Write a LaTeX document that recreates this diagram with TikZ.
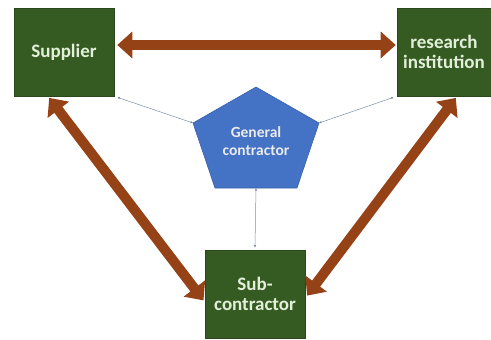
\documentclass[tikz,border=0pt]{standalone}
\usepackage{fontspec}
\setmainfont{Carlito}
\usetikzlibrary{arrows.meta}
\definecolor{boxgreen}{HTML}{355A22}
\definecolor{boxtext}{HTML}{E2F0D9}
\definecolor{pentblue}{HTML}{4472C4}
\definecolor{pentedge}{HTML}{3A62AA}
\definecolor{arrowbrown}{HTML}{944216}
\definecolor{thinline}{HTML}{8090A8}
\tikzset{
  greenbox/.style={draw=boxgreen!80!black, line width=0.6pt, fill=boxgreen, text=boxtext,
    minimum width=100pt, minimum height=88pt, inner sep=0pt, align=center,
    font=\fontsize{19}{20}\selectfont\bfseries},
  gctext/.style={text=white!92!black, align=center, inner sep=0pt,
    font=\fontsize{15.5}{18}\selectfont\bfseries},
  bigarrow/.style={draw=arrowbrown, line width=10pt,
    {Triangle[length=15pt,width=26pt]}-{Triangle[length=15pt,width=26pt]}},
  thinarrow/.style={draw=thinline, line width=0.5pt,
    {Latex[length=2.5pt,width=2.5pt]}-{Latex[length=2.5pt,width=2.5pt]}}
}
\begin{document}
\begin{tikzpicture}[x=1pt,y=-1pt]
\useasboundingbox (0,0) rectangle (491,340);
\fill[white] (0,0) rectangle (491,340);
% boxes
\node[greenbox] (sup) at (64,52) {Supplier};
\node[greenbox, minimum width=94pt] (res) at (444,52) {research\\institution};
\node[greenbox] (sub) at (255,294) {Sub-\\contractor};
% pentagon
\coordinate (pt) at (256,87);
\coordinate (pl) at (193,123);
\coordinate (pr) at (319,123);
\coordinate (pbl) at (215,188);
\coordinate (pbr) at (297,188);
\coordinate (pb) at (256,188);
\fill[pentblue, draw=pentedge, line width=0.6pt] (pt) -- (pr) -- (pbr) -- (pbl) -- (pl) -- cycle;
\node[gctext] (gc) at (256,141) {General\\contractor};
% thick arrows
\draw[bigarrow, shorten <=3pt, shorten >=1pt] ([yshift=7pt]sup.east) -- ([yshift=7pt]res.west);
\draw[bigarrow, shorten <=2pt, shorten >=2pt] ([xshift=-16pt]sup.south) -- ([yshift=-8pt]sub.west);
\draw[bigarrow, shorten <=2pt, shorten >=3pt] ([xshift=13pt]res.south) -- ([yshift=-4pt]sub.east);
% thin arrows
\draw[thinarrow] ([xshift=3pt,yshift=-1pt]sup.south east) -- (pl);
\draw[thinarrow] ([xshift=-3pt,yshift=-1pt]res.south west) -- (pr);
\draw[thinarrow] (pb) -- ([yshift=2pt]sub.north);
\end{tikzpicture}
\end{document}
